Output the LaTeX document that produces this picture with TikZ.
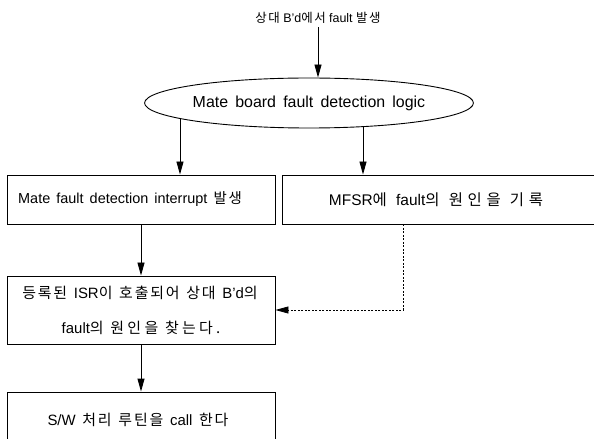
\documentclass[tikz,border=0pt]{standalone}
\usepackage{fontspec}
\setmainfont{Liberation Sans}
\newfontfamily\kr[LetterSpace=12]{Noto Sans CJK KR}
\newfontfamily\krw[LetterSpace=30]{Noto Sans CJK KR}
\newfontfamily\krm[LetterSpace=22]{Noto Sans CJK KR}
\newcommand\hk[1]{{\kr #1}}
\newcommand\hkw[1]{{\krw #1}}
\newcommand\hkm[1]{{\krm #1}}
\usetikzlibrary{shapes.geometric,arrows.meta}
\newcommand\fsA{\fontsize{14.5}{17}\selectfont\spaceskip 0.42em plus 0.1em\relax}
\newcommand\fsB{\fontsize{15.5}{18}\selectfont\spaceskip 0.6em plus 0.1em\relax}
\newcommand\fsC{\fontsize{15}{18}\selectfont\spaceskip 0.45em plus 0.1em\relax}
\newcommand\fsell{\fontsize{16}{19}\selectfont\spaceskip 0.45em plus 0.1em\relax}
\newcommand\fstop{\fontsize{12.5}{15}\selectfont}
\begin{document}
\begin{tikzpicture}[x=1bp,y=-1bp,
  every node/.style={font=\fsA},
  boxnode/.style={draw,line width=0.9bp,rectangle,inner sep=0pt},
  arr/.style={line width=0.9bp,-{Triangle[length=13bp,width=7bp]}},
  dsh/.style={line width=0.8bp,dash pattern=on 2bp off 1.5bp,-{Triangle[length=13bp,width=7bp]}}]
\useasboundingbox (0,0) rectangle (594,439);
\node[font=\fstop] (top) at (318,18) {\hk{상대} B'd\hk{에서} fault \hk{발생}};
\node[draw,ellipse,line width=0.9bp,minimum width=314bp,minimum height=50bp,inner sep=0pt,font=\fsell] (ell) at (309,103) {Mate board fault detection logic};
\node[boxnode,minimum width=268bp,minimum height=49bp] (b1) at (141,199.5) {};
\node (t1) at (130,199.5) {Mate fault detection interrupt \hk{발생}};
\node[boxnode,minimum width=314bp,minimum height=49bp] (b2) at (439,199.5) {};
\node[font=\fsB] (t2) at (436,199.5) {MFSR\hkw{에} fault\hkw{의 원인을 기록}};
\node[boxnode,minimum width=268bp,minimum height=68bp] (b3) at (141,310) {};
\node[font=\fsC] (t3a) at (140,293) {\hk{등록된} ISR\hk{이 호출되어 상대} B'd\hk{의}};
\node[font=\fsC] (t3b) at (141,328) {fault\hkm{의 원인을 찾는다.}};
\node[boxnode,minimum width=268bp,minimum height=52bp] (b4) at (141,418) {};
\node[font=\fsC] (t4) at (138,420) {S/W \hk{처리 루틴을} call \hk{한다}};
\coordinate (dx) at (403,0);
\draw[arr] (top.south) -- (top.south |- ell.north);
\draw[arr] (ell.187.3) -- (ell.187.3 |- b1.north);
\draw[arr] (ell.336.1) -- (ell.336.1 |- b2.north);
\draw[arr] (b1.south) -- (b3.north);
\draw[arr] (b3.south) -- (b4.north);
\draw[dsh] (b2.south -| dx) |- (b3.east);
\end{tikzpicture}
\end{document}
